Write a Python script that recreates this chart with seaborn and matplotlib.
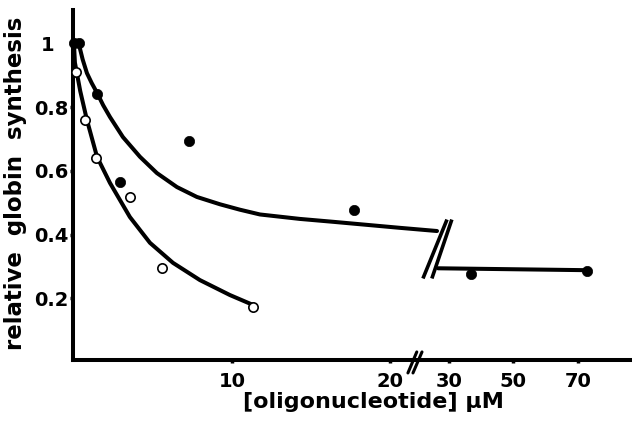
import numpy as np
import pandas as pd
import matplotlib
matplotlib.use("Agg")
import matplotlib.pyplot as plt
import matplotlib.transforms as mtransforms
import seaborn as sns

# measured points
filled_x = [0.0, 0.3, 1.45, 2.9, 7.3, 17.7, 36.8, 72.8]
filled_y = [1.0, 1.0, 0.84, 0.565, 0.695, 0.477, 0.276, 0.286]
open_x = [0.15, 0.7, 1.4, 3.55, 5.6, 11.35]
open_y = [0.91, 0.76, 0.64, 0.518, 0.295, 0.173]

# hand drawn fit curves
upper_x = [0.3, 0.55, 0.82, 1.12, 1.46, 1.85, 2.28, 3.10, 4.18, 5.25, 6.52,
           7.78, 9.24, 10.5, 11.77, 14.3, 16.39, 20.63, 26.3]
upper_y = [1.0, 0.95, 0.907, 0.876, 0.845, 0.806, 0.769, 0.706, 0.644, 0.593,
           0.549, 0.518, 0.495, 0.478, 0.463, 0.449, 0.440, 0.421, 0.411]
lower_x = [0.0, 0.06, 0.4, 0.82, 1.46, 2.28, 3.54, 4.81, 6.27, 7.97, 9.87, 11.33]
lower_y = [1.0, 0.94, 0.85, 0.76, 0.644, 0.562, 0.455, 0.374, 0.311, 0.257,
           0.21, 0.179]
plateau_x = [26.6, 72.8]
plateau_y = [0.294, 0.288]

# break marks on the upper curve
slash1_x, slash1_y = [22.09, 29.4], [0.262, 0.447]
slash2_x, slash2_y = [24.7, 30.9], [0.262, 0.447]

x_ticks = [10, 20, 30, 50, 70]
x_ticklabels = ["10", "20", "30", "50", "70"]
y_ticks = [0.2, 0.4, 0.6, 0.8, 1.0]
y_ticklabels = ["0.2", "0.4", "0.6", "0.8", "1"]

# broken x axis: 0-22 at full scale, compressed after
XB = 22.13
R = 0.204


def fwd(x):
    x = np.asarray(x, dtype=float)
    return np.where(x <= XB, x, XB + (x - XB) * R)


def inv(u):
    u = np.asarray(u, dtype=float)
    return np.where(u <= XB, u, XB + (u - XB) / R)


sns.set_style("ticks")
plt.rcParams["font.family"] = ["DejaVu Sans"]
plt.rcParams["font.weight"] = "bold"
for key in ["text.color", "axes.labelcolor", "xtick.color", "ytick.color",
            "axes.edgecolor"]:
    plt.rcParams[key] = "black"

fig = plt.figure(figsize=(6.32, 4.29), dpi=100)
ax = fig.add_axes([73 / 632, 1 - 360 / 429, 559 / 632, 350 / 429])
ax.set_xscale("function", functions=(fwd, inv))

curves = pd.concat([
    pd.DataFrame({"x": upper_x, "y": upper_y, "curve": "upper"}),
    pd.DataFrame({"x": lower_x, "y": lower_y, "curve": "lower"}),
    pd.DataFrame({"x": plateau_x, "y": plateau_y, "curve": "plateau"}),
])
sns.lineplot(data=curves, x="x", y="y", units="curve", estimator=None,
             sort=False, color="black", lw=2.9, ax=ax,
             solid_joinstyle="round")

for sx, sy in [(slash1_x, slash1_y), (slash2_x, slash2_y)]:
    ax.plot(sx, sy, color="black", lw=2.6, solid_capstyle="butt")

sns.scatterplot(x=filled_x, y=filled_y, color="black", s=55, edgecolor="black",
                linewidth=0.5, ax=ax, zorder=5, clip_on=False)
sns.scatterplot(x=open_x, y=open_y, color="white", s=45, edgecolor="black",
                linewidth=1.2, ax=ax, zorder=5, clip_on=False)

ax.set_xlim(-0.06, 86.8)
ax.set_ylim(0.006, 1.105)
sns.despine(ax=ax)
for side in ["left", "bottom"]:
    ax.spines[side].set_linewidth(2.9)

ax.set_xticks(x_ticks)
ax.set_xticklabels(x_ticklabels)
ax.set_yticks(y_ticks)
ax.set_yticklabels(y_ticklabels)
ax.tick_params(axis="both", direction="out", length=2.5, width=2.5,
               labelsize=14)
ax.tick_params(axis="y", pad=1)
ax.tick_params(axis="x", pad=6)

# the "1" label sits further left in the original
top_lbl = ax.get_yticklabels()[-1]
top_lbl.set_transform(top_lbl.get_transform() +
                      mtransforms.ScaledTranslation(-0.14, 0, fig.dpi_scale_trans))

# double slash on the x axis
trans = ax.get_xaxis_transform()
for bx in [(21.14, 21.7), (21.46, 22.03)]:
    ax.plot(bx, [-0.037, 0.023], color="black", lw=2.2, transform=trans,
            clip_on=False)

ax.set_ylabel("relative  globin  synthesis", fontsize=16.5, fontweight="bold")
ax.yaxis.set_label_coords(-0.082, 0.505)
ax.set_xlabel("[oligonucleotide] μM", fontsize=16, fontweight="bold")
ax.xaxis.set_label_coords(0.538, -0.09)

fig.savefig("out.png", dpi=100)
